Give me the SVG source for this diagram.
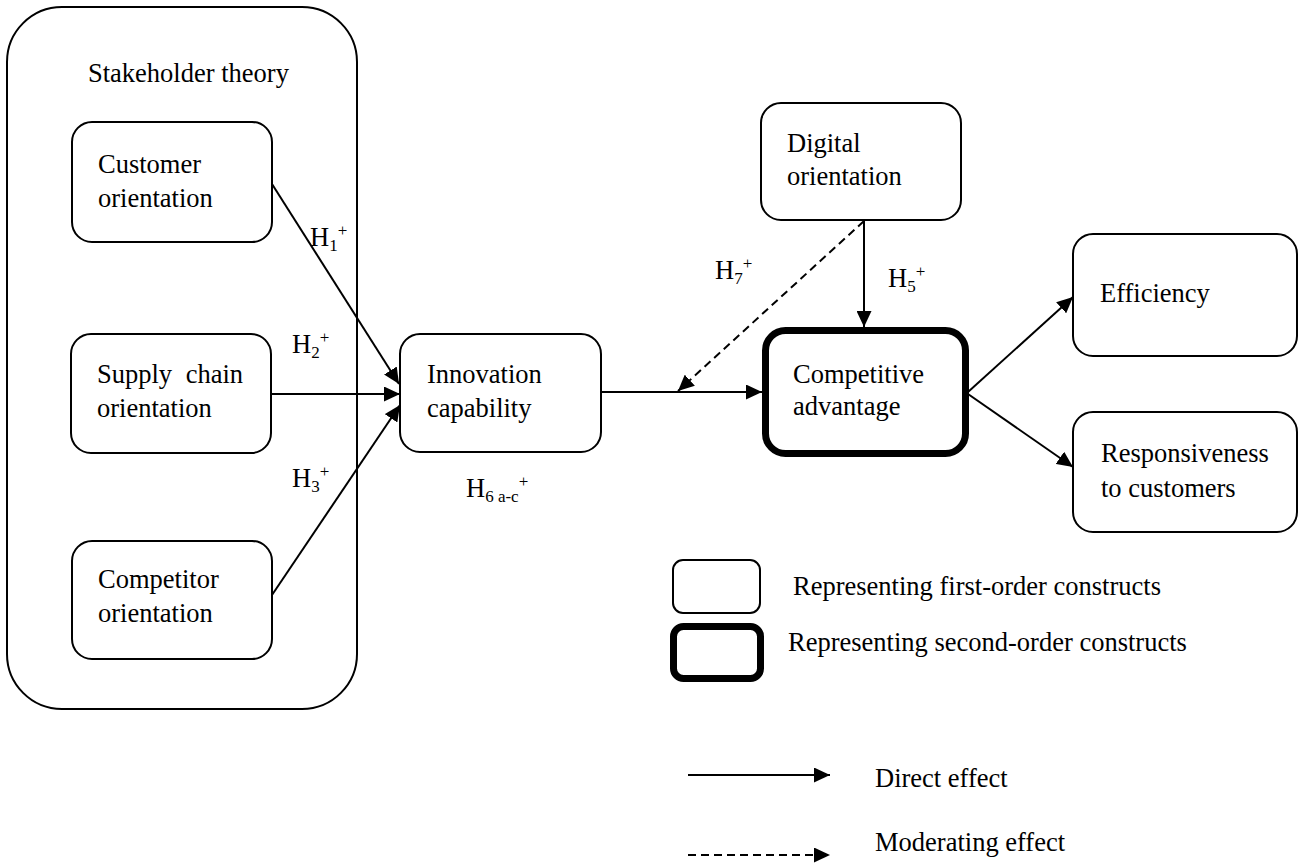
<svg xmlns="http://www.w3.org/2000/svg" width="1299" height="863" viewBox="0 0 1299 863">
<style>
text{font-family:"Liberation Serif","Times New Roman",serif;font-size:26.5px;fill:#000}
.box{fill:#fff;stroke:#000;stroke-width:2}
.thick{fill:#fff;stroke:#000;stroke-width:7}
.ln{stroke:#000;stroke-width:2;fill:none}
.dash{stroke:#000;stroke-width:2;fill:none;stroke-dasharray:8 5}
.sub{font-size:17px}
</style>
<defs>
<marker id="ah" markerUnits="userSpaceOnUse" markerWidth="16" markerHeight="15" refX="16" refY="7.5" orient="auto">
<path d="M0,0 L16,7.5 L0,15 z" fill="#000"/>
</marker>
</defs>
<rect width="1299" height="863" fill="#fff"/>

<g id="stakeholder">
<rect class="box" x="7" y="7" width="350" height="702" rx="55" ry="55"/>
<text x="88" y="82">Stakeholder theory</text>
</g>

<g id="customer">
<rect class="box" x="72" y="122" width="200" height="120" rx="20"/>
<text x="98" y="173">Customer</text>
<text x="98" y="207">orientation</text>
</g>

<g id="supply">
<rect class="box" x="71" y="334" width="200" height="119" rx="20"/>
<text x="97" y="383" word-spacing="7">Supply chain</text>
<text x="97" y="417">orientation</text>
</g>

<g id="competitor">
<rect class="box" x="72" y="541" width="200" height="118" rx="20"/>
<text x="98" y="588">Competitor</text>
<text x="98" y="622">orientation</text>
</g>

<g id="innovation">
<rect class="box" x="400" y="334" width="201" height="118" rx="20"/>
<text x="427" y="383">Innovation</text>
<text x="427" y="417">capability</text>
</g>

<g id="digital">
<rect class="box" x="761" y="103" width="200" height="117" rx="20"/>
<text x="787" y="152">Digital</text>
<text x="787" y="185">orientation</text>
</g>

<g id="competitive">
<rect class="thick" x="765.5" y="330.5" width="200" height="123" rx="20"/>
<text x="793" y="383">Competitive</text>
<text x="793" y="415">advantage</text>
</g>

<g id="efficiency">
<rect class="box" x="1073" y="234" width="224" height="122" rx="20"/>
<text x="1100" y="302">Efficiency</text>
</g>

<g id="responsiveness">
<rect class="box" x="1073" y="412" width="224" height="120" rx="20"/>
<text x="1101" y="462">Responsiveness</text>
<text x="1101" y="497">to customers</text>
</g>

<g id="connectors">
<line class="ln" x1="272" y1="184" x2="399" y2="384" marker-end="url(#ah)"/>
<line class="ln" x1="271" y1="394" x2="400" y2="394" marker-end="url(#ah)"/>
<line class="ln" x1="272" y1="595" x2="400" y2="405" marker-end="url(#ah)"/>
<line class="ln" x1="601" y1="392" x2="762" y2="392" marker-end="url(#ah)"/>
<line class="dash" x1="864" y1="221" x2="678" y2="391" marker-end="url(#ah)"/>
<line class="ln" x1="864" y1="220" x2="864" y2="327" marker-end="url(#ah)"/>
<line class="ln" x1="968" y1="392" x2="1073" y2="297" marker-end="url(#ah)"/>
<line class="ln" x1="968" y1="394" x2="1073" y2="467" marker-end="url(#ah)"/>
</g>

<g id="labels">
<text x="310" y="246">H<tspan class="sub" dy="5">1</tspan><tspan class="sub" dy="-15">+</tspan></text>
<text x="292" y="353">H<tspan class="sub" dy="5">2</tspan><tspan class="sub" dy="-15">+</tspan></text>
<text x="292" y="487">H<tspan class="sub" dy="5">3</tspan><tspan class="sub" dy="-15">+</tspan></text>
<text x="466" y="497">H<tspan class="sub" dy="5">6 a-c</tspan><tspan class="sub" dy="-15">+</tspan></text>
<text x="715" y="279">H<tspan class="sub" dy="5">7</tspan><tspan class="sub" dy="-15">+</tspan></text>
<text x="888" y="287">H<tspan class="sub" dy="5">5</tspan><tspan class="sub" dy="-15">+</tspan></text>
</g>

<g id="legend">
<rect class="box" x="673" y="560" width="87" height="53" rx="10"/>
<text x="793" y="595">Representing first-order constructs</text>
<rect class="thick" x="673.5" y="626.5" width="87" height="52" rx="10"/>
<text x="788" y="651">Representing second-order constructs</text>
<line class="ln" x1="688" y1="775" x2="830" y2="775" marker-end="url(#ah)"/>
<text x="875" y="787">Direct effect</text>
<line class="dash" x1="688" y1="855" x2="830" y2="855" marker-end="url(#ah)"/>
<text x="875" y="851">Moderating effect</text>
</g>
</svg>
